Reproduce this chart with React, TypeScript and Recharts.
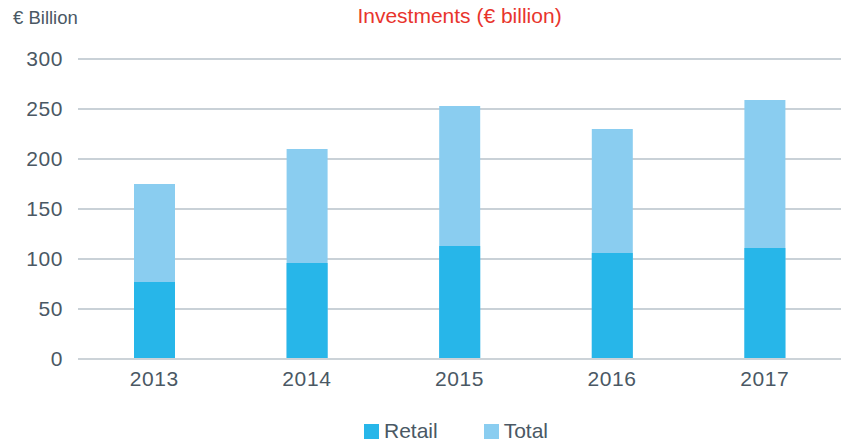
import React from 'react';
import { BarChart, Bar, XAxis, YAxis, CartesianGrid, Legend } from 'recharts';

const years = ['2013', '2014', '2015', '2016', '2017'];
const retail = [77, 96, 113, 106, 111];
const total = [175, 210, 253, 230, 259];
const yTicks = [0, 50, 100, 150, 200, 250, 300];

const RETAIL_COLOR = '#27b6e9';
const TOTAL_COLOR = '#8acdf0';
const TEXT = '#4a5864';
const FONT = '"Liberation Sans", Arial, sans-serif';

const data = years.map((y, i) => ({ year: y, retail: retail[i], total: total[i] }));

const legendItems = [
  { name: 'Retail', color: RETAIL_COLOR },
  { name: 'Total', color: TOTAL_COLOR },
];

const LegendContent = () => (
  <div style={{ display: 'flex', justifyContent: 'center', fontFamily: FONT, fontSize: 21, color: TEXT, paddingLeft: 71, paddingTop: 16 }}>
    {legendItems.map((it, i) => (
      <div key={it.name} style={{ display: 'flex', alignItems: 'center', marginLeft: i ? 46 : 0 }}>
        <div style={{ width: 15, height: 15, background: it.color, marginRight: 5 }} />
        <span>{it.name}</span>
      </div>
    ))}
  </div>
);

export default function App() {
  return (
    <div style={{ position: 'absolute', left: 0, top: 0, width: 848, height: 441, background: '#fff' }}>
      <div style={{ position: 'absolute', left: 13, top: 7, fontFamily: FONT, fontSize: 18.5, color: TEXT }}>€ Billion</div>
      <div style={{ position: 'absolute', left: 78, width: 763, top: 4, textAlign: 'center', fontFamily: FONT, fontSize: 21, color: '#e8342c' }}>
        Investments (€ billion)
      </div>
      <BarChart
        width={848}
        height={441}
        data={data}
        margin={{ top: 59, right: 7, bottom: 0, left: 0 }}
        barGap={-41}
      >
        <CartesianGrid vertical={false} stroke="#b7c2ca" strokeWidth={1.5} />
        <XAxis
          dataKey="year"
          axisLine={{ stroke: '#ccd3d8', strokeWidth: 2 }}
          tickLine={false}
          height={44}
          tickMargin={6}
          tick={{ fill: TEXT, fontSize: 21, fontFamily: FONT, letterSpacing: 0.6 }}
        />
        <YAxis
          width={78}
          domain={[0, 300]}
          ticks={yTicks}
          axisLine={false}
          tickLine={false}
          tickMargin={9}
          tick={{ fill: TEXT, fontSize: 21, fontFamily: FONT, letterSpacing: 0.6 }}
        />
        <Legend verticalAlign="bottom" height={38} content={<LegendContent />} />
        <Bar dataKey="total" name="Total" fill={TOTAL_COLOR} barSize={41} isAnimationActive={false} />
        <Bar dataKey="retail" name="Retail" fill={RETAIL_COLOR} barSize={41} isAnimationActive={false} />
      </BarChart>
    </div>
  );
}
